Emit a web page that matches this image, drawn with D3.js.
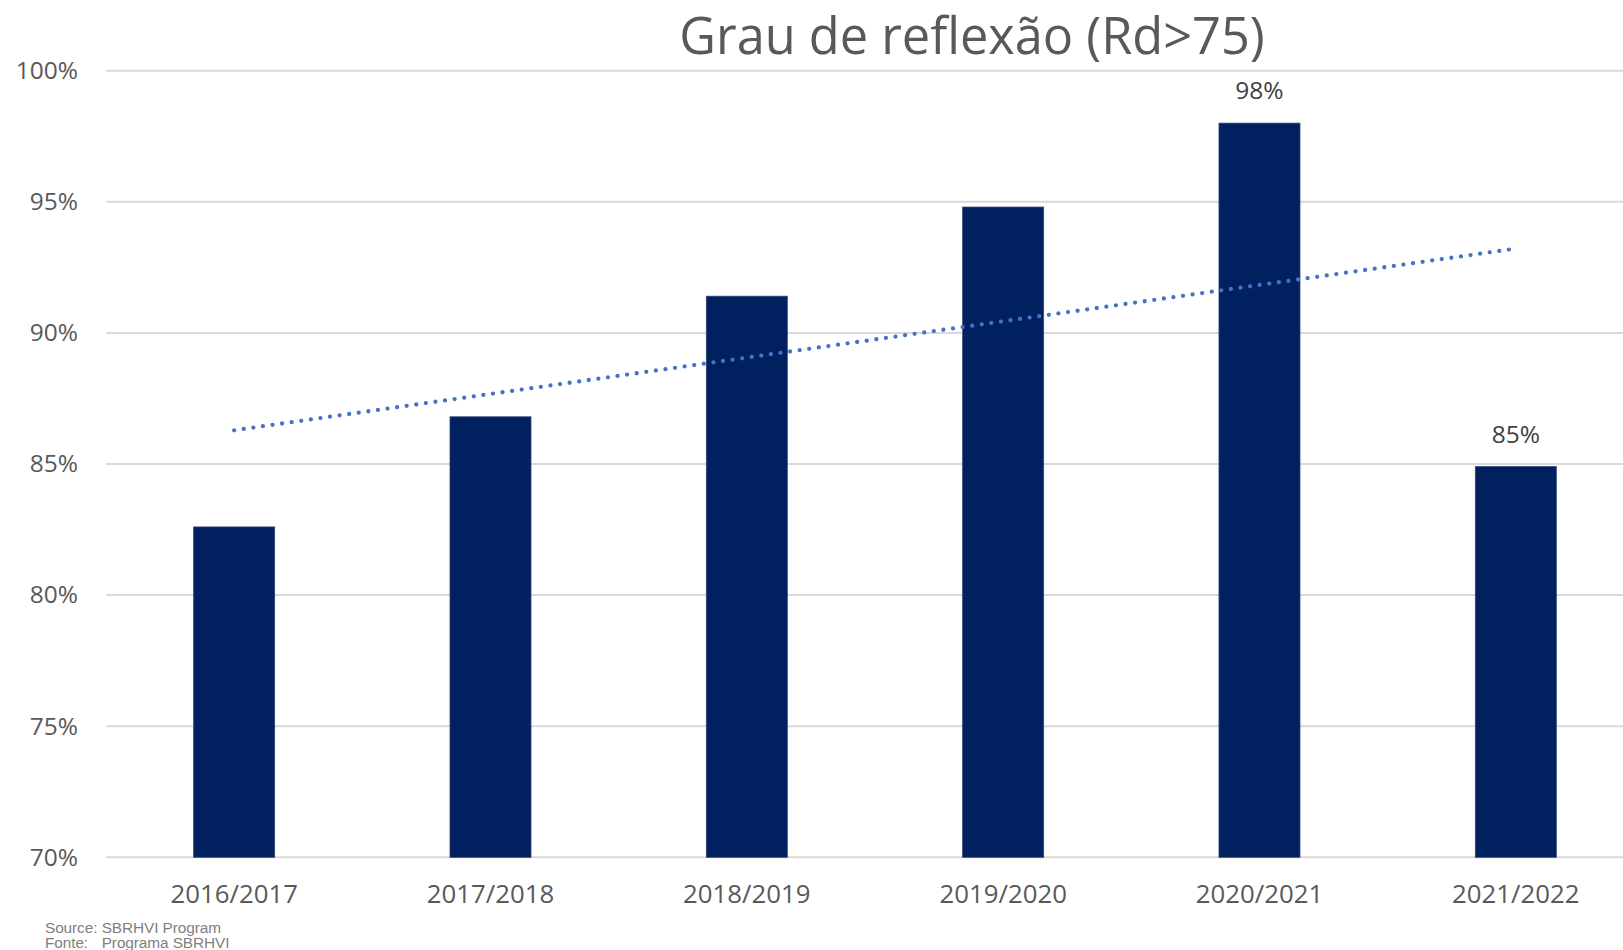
<!DOCTYPE html>
<html>
<head>
<meta charset="utf-8">
<script src="https://cdn.jsdelivr.net/npm/d3@7"></script>
<style>
  body { margin: 0; background: #fff; }
  #chart { width: 1623px; height: 950px; overflow: hidden; }
  .tick text { fill: #595959; }
</style>
</head>
<body>
<div id="chart"></div>
<script>
// chart values
var seasons = ["2016/2017", "2017/2018", "2018/2019", "2019/2020", "2020/2021", "2021/2022"];
var reflexao = [82.6, 86.8, 91.4, 94.8, 98.0, 84.9];
var showLabel = [false, false, false, false, true, true];
var yTicks = [70, 75, 80, 85, 90, 95, 100];
var sourceLines = [["Source:", "SBRHVI Program"], ["Fonte:", "Programa SBRHVI"]];

var W = 1623, H = 950;
var margin = {left: 106, top: 70.7, bottom: 92.7};
var mainFont = "'Open Sans', Lato, sans-serif";

var svg = d3.select("#chart").append("svg")
    .attr("width", W)
    .attr("height", H)
    .style("font-family", mainFont);

var x = d3.scaleBand()
    .domain(seasons)
    .range([margin.left, margin.left + 6 * 256.33])
    .paddingInner(0.684)
    .paddingOuter(0.342);

var y = d3.scaleLinear()
    .domain([70, 100])
    .range([H - margin.bottom, margin.top]);

// gridlines
svg.append("g")
    .selectAll("line")
    .data(yTicks)
    .enter().append("line")
    .attr("x1", margin.left)
    .attr("x2", W)
    .attr("y1", function (d) { return y(d); })
    .attr("y2", function (d) { return y(d); })
    .attr("stroke", "#d9d9d9")
    .attr("stroke-width", 2);

// y axis labels
var yAxis = d3.axisLeft(y)
    .tickValues(yTicks)
    .tickSize(0)
    .tickPadding(0)
    .tickFormat(function (d) { return d + "%"; });

svg.append("g")
    .attr("transform", "translate(78,0)")
    .call(yAxis)
    .call(function (g) { g.select(".domain").remove(); })
    .selectAll("text")
    .style("font-size", "24.5px")
    .style("font-family", mainFont);

// x axis labels
var xAxis = d3.axisBottom(x).tickSize(0).tickPadding(0);
svg.append("g")
    .attr("transform", "translate(0,885)")
    .call(xAxis)
    .call(function (g) { g.select(".domain").remove(); })
    .selectAll("text")
    .style("font-size", "25.8px")
    .style("font-family", mainFont);

// bars
svg.append("g")
    .selectAll("rect")
    .data(reflexao)
    .enter().append("rect")
    .attr("x", function (d, i) { return x(seasons[i]); })
    .attr("width", x.bandwidth())
    .attr("y", function (d) { return y(d); })
    .attr("height", function (d) { return y(70) - y(d); })
    .attr("fill", "#002060")
    .attr("stroke", "#2f4477")
    .attr("stroke-width", 0.8);

// linear trendline (least squares over the bars)
var n = reflexao.length;
var mx = d3.mean(reflexao, function (d, i) { return i; });
var my = d3.mean(reflexao);
var slope = d3.sum(reflexao, function (d, i) { return (i - mx) * (d - my); }) /
    d3.sum(reflexao, function (d, i) { return (i - mx) * (i - mx); });
var trend = [0, n - 1].map(function (i) { return {i: i, v: my + slope * (i - mx)}; });

svg.append("path")
    .datum(trend)
    .attr("d", d3.line()
        .x(function (d) { return x(seasons[d.i]) + x.bandwidth() / 2; })
        .y(function (d) { return y(d.v); }))
    .attr("fill", "none")
    .attr("stroke", "#4472c4")
    .attr("stroke-width", 4.3)
    .attr("stroke-linecap", "round")
    .attr("stroke-dasharray", "0 9.68");

// data labels
svg.append("g")
    .selectAll("text")
    .data(reflexao.filter(function (d, i) { return showLabel[i]; }))
    .enter().append("text")
    .attr("x", function (d) { return x(seasons[reflexao.indexOf(d)]) + x.bandwidth() / 2; })
    .attr("y", function (d) { return y(d) - 24; })
    .attr("text-anchor", "middle")
    .style("font-size", "24.5px")
    .attr("fill", "#404040")
    .text(function (d) { return Math.round(d) + "%"; });

// title
svg.append("text")
    .attr("x", 972)
    .attr("y", 54)
    .attr("text-anchor", "middle")
    .style("font-size", "50.5px")
    .attr("fill", "#595959")
    .text("Grau de reflexão (Rd>75)");

// source note
var src = svg.append("g")
    .attr("fill", "#7f7f7f")
    .style("font-family", "'Liberation Sans', Arial, sans-serif")
    .style("font-size", "15.4px");
sourceLines.forEach(function (ln, i) {
    src.append("text")
        .attr("x", 45).attr("y", 933 + i * 14.5)
        .attr("letter-spacing", -0.1)
        .text(ln[0]);
    src.append("text")
        .attr("x", 101.7).attr("y", 933 + i * 14.5)
        .attr("letter-spacing", -0.1)
        .text(ln[1]);
});
</script>
</body>
</html>
